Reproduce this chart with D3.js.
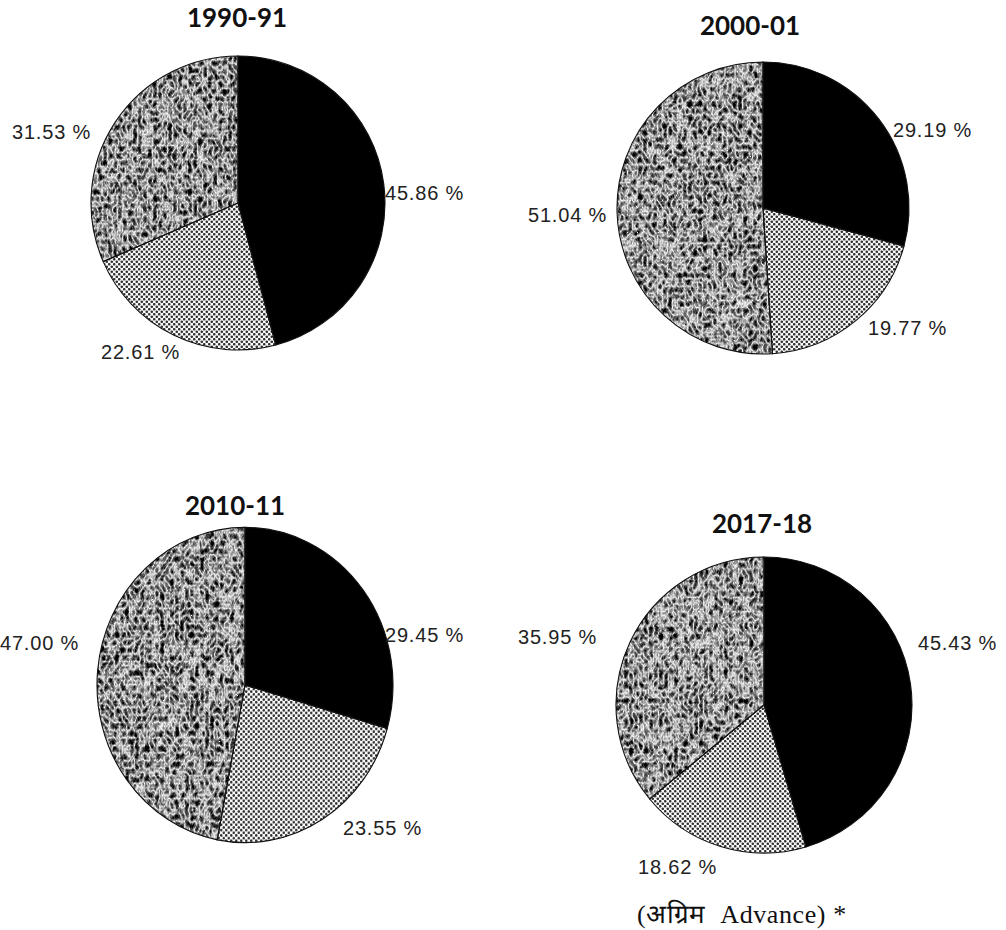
<!DOCTYPE html>
<html>
<head>
<meta charset="utf-8">
<script src="https://cdn.jsdelivr.net/npm/d3@7"></script>
<style>
  body { margin: 0; background: #fff; }
  svg { display: block; }
</style>
</head>
<body>
<div id="chart"></div>
<script>
// chart data: share of each sector per year (clockwise from 12 o'clock)
var years = ['1990-91', '2000-01', '2010-11', '2017-18'];
var sectorBlack = [45.86, 29.19, 29.45, 45.43];
var sectorDots = [22.61, 19.77, 23.55, 18.62];
var sectorTexture = [31.53, 51.04, 47.00, 35.95];
var footnote = '(अग्रिम  Advance) *';

// layout of the four pies
var pies = [
    {cx: 238, cy: 203, r: 147, sy: 1, tx: 237, ty: 27, seed: 3},
    {cx: 763, cy: 208, r: 146, sy: 1, tx: 750, ty: 35, seed: 7},
    {cx: 245, cy: 685, r: 148, sy: 1.065, tx: 235, ty: 515, seed: 11},
    {cx: 764, cy: 705, r: 148, sy: 1, tx: 762, ty: 533, seed: 19}
];
// label offsets from pie centre (left edge of text, baseline), per slice
var labelOffsets = [
    [[147, -3], [-137, 156], [-226, -64]],
    [[130, -71], [105, 127], [-235, 14]],
    [[140, -43], [98, 150], [-245, -35]],
    [[154, -55], [-126, 169], [-246, -61]]
];

var width = 1006, height = 930;

var svg = d3.select('#chart').append('svg')
    .attr('width', width)
    .attr('height', height);

var defs = svg.append('defs');

// halftone dot pattern
var dots = defs.append('pattern')
    .attr('id', 'dots')
    .attr('patternUnits', 'userSpaceOnUse')
    .attr('width', 5).attr('height', 5);
dots.append('rect').attr('width', 5).attr('height', 5).attr('fill', '#fbfbfb');
dots.append('circle').attr('cx', 1.25).attr('cy', 1.25).attr('r', 1.3).attr('fill', '#333');
dots.append('circle').attr('cx', 3.75).attr('cy', 3.75).attr('r', 1.3).attr('fill', '#333');

// grainy texture filters, one seed per pie
pies.forEach(function(p, i) {
    var f = defs.append('filter')
        .attr('id', 'tex' + i)
        .attr('x', 0).attr('y', 0).attr('width', 1).attr('height', 1)
        .attr('color-interpolation-filters', 'sRGB');
    f.append('feTurbulence')
        .attr('type', 'turbulence')
        .attr('baseFrequency', '0.2 0.14')
        .attr('numOctaves', 2)
        .attr('seed', p.seed)
        .attr('result', 'noise');
    f.append('feColorMatrix')
        .attr('in', 'noise')
        .attr('type', 'matrix')
        .attr('values',
            '-1.7 0 0 0 0.98  -1.7 0 0 0 0.98  -1.7 0 0 0 0.98  0 0 0 0 1')
        .attr('result', 'grey');
    f.append('feGaussianBlur')
        .attr('in', 'grey')
        .attr('stdDeviation', 0.7)
        .attr('result', 'soft');
    f.append('feComposite')
        .attr('in', 'soft')
        .attr('in2', 'SourceGraphic')
        .attr('operator', 'in');
});

var pie = d3.pie().sort(null).value(function(d) { return d; });
var fills = ['#000', 'url(#dots)', null];

years.forEach(function(year, i) {
    var p = pies[i];
    var values = [sectorBlack[i], sectorDots[i], sectorTexture[i]];
    var arcs = pie(values);
    var arc = d3.arc().innerRadius(0).outerRadius(p.r);

    // title
    svg.append('text')
        .attr('x', p.tx)
        .attr('y', p.ty)
        .attr('text-anchor', 'middle')
        .attr('font-family', 'Lato, "Open Sans", sans-serif')
        .attr('font-weight', 'bold')
        .attr('font-size', 26)
        .attr('fill', '#111')
        .text(year);

    var g = svg.append('g')
        .attr('transform', 'translate(' + p.cx + ',' + p.cy + ') scale(1,' + p.sy + ')');

    // slices
    g.selectAll('path.slice').data(arcs).enter()
        .append('path').attr('class', 'slice')
        .attr('d', arc)
        .attr('fill', function(d, j) { return j === 2 ? '#888' : fills[j]; })
        .attr('filter', function(d, j) { return j === 2 ? 'url(#tex' + i + ')' : null; });

    // outlines drawn on top
    g.selectAll('path.edge').data(arcs).enter()
        .append('path').attr('class', 'edge')
        .attr('d', arc)
        .attr('fill', 'none')
        .attr('stroke', '#111')
        .attr('stroke-width', 1.1);

    // percentage labels
    svg.selectAll('text.lab' + i).data(arcs).enter()
        .append('text').attr('class', 'lab' + i)
        .attr('x', function(d, j) { return p.cx + labelOffsets[i][j][0]; })
        .attr('y', function(d, j) { return p.cy + labelOffsets[i][j][1]; })
        .attr('font-family', '"Liberation Sans", Arial, sans-serif')
        .attr('font-size', 20)
        .attr('letter-spacing', 0.8)
        .attr('fill', '#222')
        .text(function(d) { return d3.format('.2f')(d.value) + ' %'; });
});

// footnote
svg.append('text')
    .attr('x', 637)
    .attr('y', 923)
    .attr('font-family', '"Liberation Serif", "Times New Roman", serif')
    .attr('font-size', 26)
    .attr('letter-spacing', 0.6)
    .attr('fill', '#111')
    .style('white-space', 'pre')
    .text(footnote);
</script>
</body>
</html>
